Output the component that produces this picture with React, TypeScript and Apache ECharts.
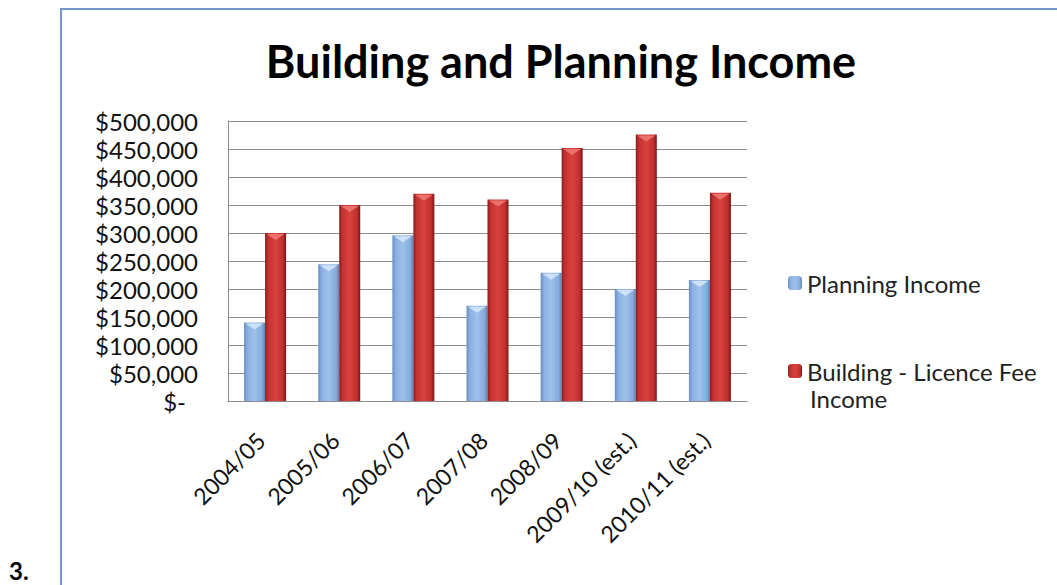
import React, { useEffect, useRef } from "react";
import * as echarts from "echarts";

const categories = ["2004/05", "2005/06", "2006/07", "2007/08", "2008/09", "2009/10 (est.)", "2010/11 (est.)"];
const planningIncome = [140000, 244000, 296000, 170000, 229000, 200000, 216000];
const buildingIncome = [300000, 350000, 370000, 360000, 452000, 476000, 372000];
const seriesNames = ["Planning Income", "Building - Licence Fee Income"];
const titleText = "Building and Planning Income";

const FONT = "Lato, 'Open Sans', sans-serif";

function capSeries(values: number[], offset: number, fill: string) {
  return {
    type: "custom",
    silent: true,
    z: 3,
    data: values.map((v, i) => [i, v]),
    encode: { x: 0, y: 1 },
    renderItem: (params: any, api: any) => {
      const p = api.coord([api.value(0), api.value(1)]);
      const cx = p[0] + offset;
      const top = p[1];
      return {
        type: "polygon",
        shape: {
          points: [
            [cx - 9, top + 1],
            [cx + 9, top + 1],
            [cx, top + 7],
          ],
        },
        style: { fill, opacity: 0.85 },
      };
    },
  };
}

export default function App() {
  const ref = useRef<HTMLDivElement>(null);
  useEffect(() => {
    if (!ref.current) return;
    const chart = echarts.init(ref.current, null, { renderer: "svg" });
    const redGrad = new echarts.graphic.LinearGradient(0, 0, 1, 0, [
      { offset: 0, color: "#8a1c1c" },
      { offset: 0.15, color: "#c23230" },
      { offset: 0.5, color: "#d8423f" },
      { offset: 0.85, color: "#bf2f2d" },
      { offset: 1, color: "#761616" },
    ]);
    const blueGrad = new echarts.graphic.LinearGradient(0, 0, 1, 0, [
      { offset: 0, color: "#6890c3" },
      { offset: 0.18, color: "#8cb1e2" },
      { offset: 0.5, color: "#9fc0ea" },
      { offset: 0.85, color: "#86acdd" },
      { offset: 1, color: "#5b82b4" },
    ]);
    chart.setOption({
      animation: false,
      backgroundColor: "#ffffff",
      textStyle: { fontFamily: FONT },
      graphic: [
        {
          type: "rect",
          shape: { x: 61, y: 9, width: 1100, height: 700 },
          style: { fill: "none", stroke: "#7397c9", lineWidth: 2 },
          z: -1,
        },
        {
          type: "text",
          x: 9,
          y: 570,
          style: {
            text: "3.",
            fontSize: 24,
            fontWeight: "bold",
            fontFamily: FONT,
            fill: "#000",
            verticalAlign: "middle",
          },
        },
        {
          type: "text",
          x: 561,
          y: 61,
          style: {
            text: titleText,
            fontSize: 45,
            fontWeight: "bold",
            fontFamily: FONT,
            fill: "#000",
            align: "center",
            verticalAlign: "middle",
          },
        },
        {
          type: "text",
          x: 810,
          y: 398,
          style: {
            text: "Income",
            fontSize: 24,
            fontFamily: FONT,
            fill: "#222",
            align: "left",
            verticalAlign: "middle",
          },
        },
      ],
      grid: { left: 228, right: 310, top: 121, bottom: 184 },
      legend: [
        {
          data: [seriesNames[0]],
          left: 788,
          top: 271,
          padding: 0,
          itemWidth: 14,
          itemHeight: 14,
          itemGap: 6,
          textStyle: { fontSize: 24, color: "#222", fontFamily: FONT },
        },
        {
          data: [seriesNames[1]],
          left: 788,
          top: 359,
          padding: 0,
          itemWidth: 14,
          itemHeight: 14,
          formatter: (n: string) => n.replace(" Income", ""),
          textStyle: { fontSize: 24, color: "#222", fontFamily: FONT },
        },
      ],
      xAxis: {
        type: "category",
        data: categories,
        axisLine: { lineStyle: { color: "#8c8c8c" } },
        axisTick: { show: false },
        axisLabel: {
          interval: 0,
          rotate: 45,
          margin: 31,
          padding: [0, 6, 0, 0],
          fontSize: 23,
          color: "#111",
          fontFamily: FONT,
        },
      },
      yAxis: {
        type: "value",
        min: 0,
        max: 500000,
        interval: 50000,
        axisLine: { show: true, lineStyle: { color: "#8c8c8c" } },
        axisTick: { show: false },
        splitLine: { lineStyle: { color: "#8c8c8c" } },
        axisLabel: {
          margin: 30,
          fontSize: 24,
          color: "#111",
          fontFamily: FONT,
          formatter: (v: number) => (v === 0 ? "{z|$-}" : "$" + v.toLocaleString("en-US")),
          rich: { z: { fontSize: 24, color: "#111", fontFamily: FONT, padding: [0, 12, 0, 0] } },
        },
      },
      series: [
        {
          name: seriesNames[0],
          type: "bar",
          data: planningIncome,
          barWidth: 21,
          barGap: "0%",
          itemStyle: { color: blueGrad },
        },
        {
          name: seriesNames[1],
          type: "bar",
          data: buildingIncome,
          barWidth: 21,
          barGap: "0%",
          itemStyle: { color: redGrad },
        },
        capSeries(planningIncome, -10.5, "#d6e8fb"),
        capSeries(buildingIncome, 10.5, "#f07a74"),
      ],
    });
    return () => chart.dispose();
  }, []);
  return <div ref={ref} style={{ position: "fixed", left: 0, top: 0, width: 1057, height: 585 }} />;
}
